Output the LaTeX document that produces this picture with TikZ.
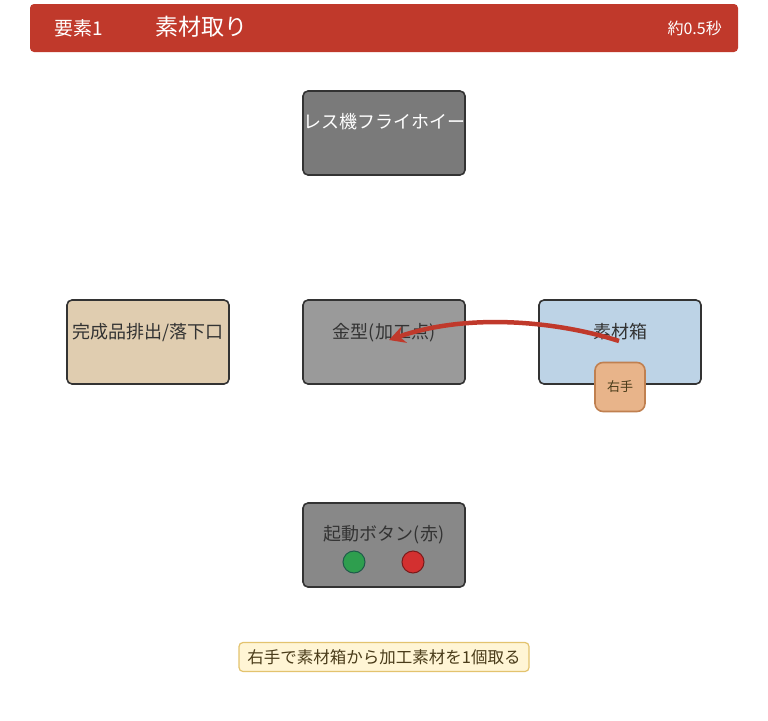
\documentclass[tikz,border=0pt]{standalone}
\usepackage{fontspec}
\setmainfont{Noto Sans CJK JP}
\usetikzlibrary{arrows.meta}
\definecolor{hdr}{HTML}{C0392B}
\definecolor{bordc}{HTML}{333333}
\definecolor{topfill}{HTML}{7A7A7A}
\definecolor{diefill}{HTML}{9A9A9A}
\definecolor{outfill}{HTML}{E0CDB0}
\definecolor{matfill}{HTML}{BDD3E6}
\definecolor{btnfill}{HTML}{888888}
\definecolor{handfill}{HTML}{E8B48A}
\definecolor{handbord}{HTML}{C08050}
\definecolor{notefill}{HTML}{FFF5D5}
\definecolor{notebord}{HTML}{E3C36E}
\definecolor{notetext}{HTML}{4A3C1A}
\definecolor{gbtn}{HTML}{2E9E4E}
\definecolor{gbtnb}{HTML}{1F5A4A}
\definecolor{rbtn}{HTML}{D33030}
\definecolor{rbtnb}{HTML}{7A1A1A}
\tikzset{
  x=1pt, y=-1pt,
  box/.style={draw=bordc, line width=1.6pt, rounded corners=5pt, minimum width=162pt, minimum height=84pt, inner sep=0pt},
  boxtext/.style={font=\fontsize{18}{20}\selectfont, text=bordc, inner sep=0pt},
}
\begin{document}
\begin{tikzpicture}
\useasboundingbox (0,0) rectangle (768,720);
% header
\fill[hdr, rounded corners=4pt] (30,4) rectangle (738,52);
\node[text=white, font=\fontsize{19}{22}\selectfont, inner sep=0pt] (h1) at (79,28) {要素1};
\node[text=white, font=\fontsize{23}{26}\selectfont, inner sep=0pt] (h2) at (201,27) {素材取り};
\node[text=white, font=\fontsize{16}{18}\selectfont, anchor=east, inner sep=0pt] (h3) at (722,28) {約0.5秒};
% boxes
\node[box, fill=topfill] (fly) at (384,133) {};
\node[text=white, font=\fontsize{18}{20}\selectfont, inner sep=0pt] (flyt) at (384,122) {レス機フライホイー};
\node[box, fill=diefill] (die) at (384,342) {};
\node[boxtext] (diet) at (384,333) {金型(加工点)};
\node[box, fill=outfill] (out) at (148,342) {};
\node[boxtext] (outt) at (148,333) {完成品排出/落下口};
\node[box, fill=matfill] (mat) at (620,342) {};
\node[boxtext] (matt) at (620,332) {素材箱};
\node[box, fill=btnfill] (btn) at (384,545) {};
\node[boxtext] (btnt) at (384,535) {起動ボタン(赤)};
\node[circle, draw=gbtnb, fill=gbtn, line width=1pt, minimum size=22pt, inner sep=0pt] (gb) at (354,562) {};
\node[circle, draw=rbtnb, fill=rbtn, line width=1pt, minimum size=22pt, inner sep=0pt] (rb) at (413,562) {};
% hand
\node[draw=handbord, fill=handfill, line width=1.6pt, rounded corners=8pt, minimum width=50pt, minimum height=49pt, inner sep=0pt, font=\fontsize{13}{15}\selectfont, text=notetext] (hand) at (620,387) {右手};
% arrow
\coordinate (from) at (619,341);
\coordinate (to) at (389,340);
\draw[hdr, line width=4.5pt, -{Stealth[length=16pt,width=17pt]}] (from) .. controls (560,322) and (470,312) .. (to);
% note
\node[draw=notebord, fill=notefill, line width=1.2pt, rounded corners=4pt, minimum width=290pt, minimum height=29pt, inner sep=0pt, font=\fontsize{16.5}{18}\selectfont, text=notetext] (note) at (384,657) {右手で素材箱から加工素材を1個取る};
\end{tikzpicture}
\end{document}
